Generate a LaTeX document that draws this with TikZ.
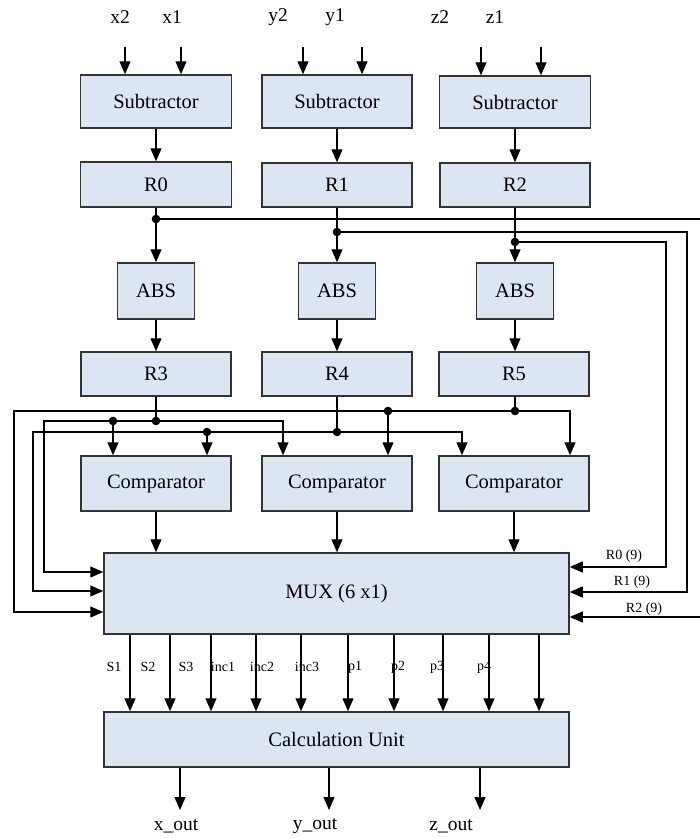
\documentclass[tikz,border=0pt]{standalone}
\usepackage{fontspec}
\setmainfont{Liberation Serif}
\usetikzlibrary{arrows.meta}
\definecolor{boxfill}{HTML}{DCE6F2}
\begin{document}
\begin{tikzpicture}[x=1pt,y=-1pt,line width=1.3pt,>={Triangle[length=13pt,width=11pt]},
        blk/.style={draw=black!80,line width=1.5pt,fill=boxfill,inner sep=0pt,font=\fontsize{20.5}{24}\selectfont},
        sig/.style={font=\fontsize{19.5}{23}\selectfont},
        tiny/.style={font=\fontsize{14}{17}\selectfont}]
            \useasboundingbox (0,0) rectangle (700,838);
            \node[blk,minimum width=151pt,minimum height=53pt] (sub1) at (156,101.5) {Subtractor};
            \node[blk,minimum width=150pt,minimum height=53pt] (sub2) at (337,101.5) {Subtractor};
            \node[blk,minimum width=151pt,minimum height=52pt] (sub3) at (515,102) {Subtractor};
            \node[blk,minimum width=151pt,minimum height=45pt] (r0) at (156,184.5) {R0};
            \node[blk,minimum width=150pt,minimum height=44pt] (r1) at (337,185) {R1};
            \node[blk,minimum width=150pt,minimum height=44pt] (r2) at (515,185) {R2};
            \node[blk,minimum width=77pt,minimum height=56pt] (abs1) at (156,291) {ABS};
            \node[blk,minimum width=77pt,minimum height=56pt] (abs2) at (337,291) {ABS};
            \node[blk,minimum width=77pt,minimum height=56pt] (abs3) at (515,291) {ABS};
            \node[blk,minimum width=150pt,minimum height=44pt] (r3) at (156,374) {R3};
            \node[blk,minimum width=150pt,minimum height=44pt] (r4) at (337,374) {R4};
            \node[blk,minimum width=150pt,minimum height=44pt] (r5) at (514,374) {R5};
            \node[blk,minimum width=150pt,minimum height=55pt] (cmp1) at (156,483.5) {Comparator};
            \node[blk,minimum width=150pt,minimum height=55pt] (cmp2) at (337,483.5) {Comparator};
            \node[blk,minimum width=150pt,minimum height=55pt] (cmp3) at (514,483.5) {Comparator};
            \node[blk,minimum width=465pt,minimum height=81pt] (mux) at (336.5,593.5) {MUX (6 x1)};
            \node[blk,minimum width=465pt,minimum height=55pt] (calc) at (336.5,739.5) {Calculation Unit};
            \foreach \n/\lx/\ax/\b in {x2/120/125/sub1,x1/172/181/sub1,y2/278/303/sub2,y1/335/362/sub2,z2/440/481/sub3,z1/495/541/sub3}
            {
                \node[sig] (l\n) at (\lx,17) {\n};
                \coordinate (i\n) at (\ax,47);
                \draw[->] (i\n) -- (i\n |- \b.north);
            }
            \foreach \k in {0,1,2}
                \pgfmathtruncatemacro{\s}{\k+1}
                \draw[->] (sub\s) -- (r\k);
            \draw[->] (r0) -- (abs1);
            \draw[->] (r1) -- (abs2);
            \draw[->] (r2) -- (abs3);
            \draw[->] (abs1) -- (r3);
            \draw[->] (abs2) -- (r4);
            \draw[->] (abs3 |- abs3.south) -- (abs3.south |- r5.north);
            \coordinate (t0) at (156,219);
            \coordinate (t1) at (337,232);
            \coordinate (t2) at (515,242);
            \coordinate (e0) at (700,219);
            \coordinate (f1) at (687,592);
            \coordinate (f2) at (666,567);
            \coordinate (e2) at (700,617);
            \draw (t0) -- (e0);
            \draw[->] (t1) -- (t1 -| f1) -- (f1) -- (f1 -| mux.east);
            \draw[->] (t2) -- (t2 -| f2) -- (f2) -- (f2 -| mux.east);
            \draw[->] (e2) -- (e2 -| mux.east);
            \node[tiny] (lr0) at (624,556) {R0 (9)};
            \node[tiny] (lr1) at (632,582) {R1 (9)};
            \node[tiny] (lr2) at (644,609) {R2 (9)};
            \coordinate (ta) at (515,411);
            \coordinate (tb) at (156,421);
            \coordinate (tc) at (337,432);
            \draw (r3) -- (tb);
            \draw (r4) -- (tc);
            \draw (abs3.south |- r5.south) -- (ta);
            \coordinate (a1) at (14,612);
            \coordinate (a2) at (570,411);
            \coordinate (a3) at (388,411);
            \draw[->] (ta) -- (a2) -- (a2 |- cmp3.north);
            \draw[->] (ta) -- (a1 |- ta) -- (a1) -- (a1 -| mux.west);
            \draw[->] (a3) -- (a3 |- cmp2.north);
            \coordinate (b1) at (44,572);
            \coordinate (b2) at (283,421);
            \coordinate (b3) at (113,421);
            \draw[->] (tb) -- (b2) -- (b2 |- cmp2.north);
            \draw[->] (tb) -- (b1 |- tb) -- (b1) -- (b1 -| mux.west);
            \draw[->] (b3) -- (b3 |- cmp1.north);
            \coordinate (c1) at (33,591);
            \coordinate (c2) at (462,432);
            \coordinate (c3) at (207,432);
            \draw[->] (tc) -- (c2) -- (c2 |- cmp3.north);
            \draw[->] (tc) -- (c1 |- tc) -- (c1) -- (c1 -| mux.west);
            \draw[->] (c3) -- (c3 |- cmp1.north);
            \foreach \p in {t0,t1,t2,ta,tb,tc,a3,b3,c3}
                \fill (\p) circle (4.3);
            \foreach \k in {1,2,3}
                \draw[->] (cmp\k) -- (cmp\k |- mux.north);
            \foreach \x/\t/\lx [count=\i] in {130/S1/114,170/S2/148,211/S3/186,256/inc1/223,301/inc2/262,348/inc3/307,394/p1/355,443/p2/398,489/p3/437,539/p4/484}
            {
                \coordinate (m\i) at (\x,0);
                \draw[->] (m\i |- mux.south) -- (m\i |- calc.north);
                \node[tiny] (s\i) at (\lx,667) {\t};
            }
            \foreach \x/\t/\lx in {180/x/176,329/y/315,480/z/451}
            {
                \coordinate (q\t) at (\x,810);
                \draw[->] (q\t |- calc.south) -- (q\t);
                \node[sig] (o\t) at (\lx,826) {\t\_out};
            }
        \end{tikzpicture}
\end{document}
